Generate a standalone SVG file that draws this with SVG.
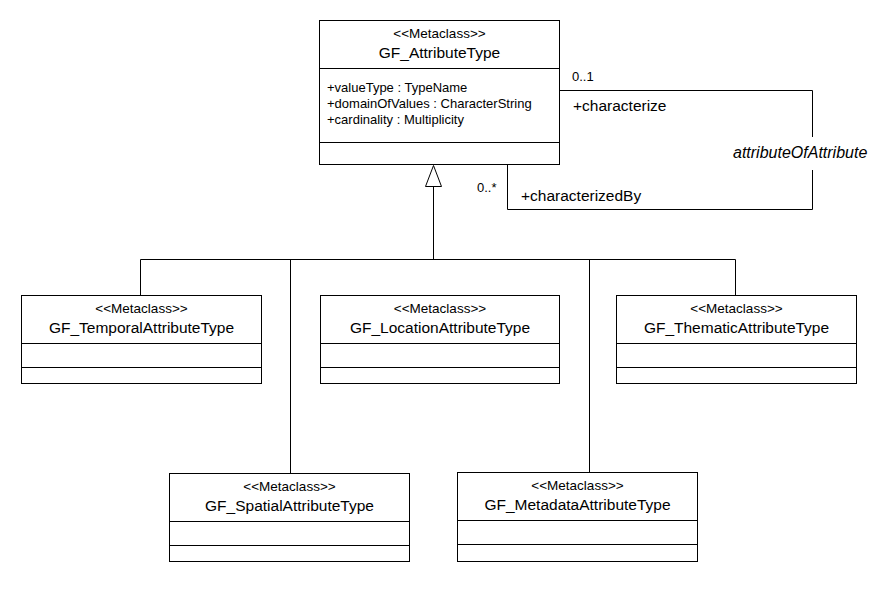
<svg xmlns="http://www.w3.org/2000/svg" width="886" height="616" viewBox="0 0 886 616">
<style>
.box{fill:#fff;stroke:#000;stroke-width:1}
.div{stroke:#000;stroke-width:1}
.st{font-family:"Liberation Sans",Arial,sans-serif;font-size:13.5px;text-anchor:middle;fill:#000}
.nm{font-family:"Liberation Sans",Arial,sans-serif;font-size:15.5px;text-anchor:middle;fill:#000}
.at{font-family:"Liberation Sans",Arial,sans-serif;font-size:13px;fill:#000}
.lb{font-family:"Liberation Sans",Arial,sans-serif;font-size:15.5px;fill:#000}
.ml{font-family:"Liberation Sans",Arial,sans-serif;font-size:13px;fill:#000}
.it{font-family:"Liberation Sans",Arial,sans-serif;font-size:16px;font-style:italic;fill:#000}
.ln{fill:none;stroke:#000;stroke-width:1}
</style>
<rect width="886" height="616" fill="#fff"/>
<g id="connectors">
  <polygon class="box" points="433.5,165.5 425.5,186.5 441.5,186.5"/>
  <path class="ln" d="M433.5 186.5V259.5M140.5 259.5H735.5M140.5 259.5V295M290.5 259.5V473M589.5 259.5V472M735.5 259.5V295"/>
  <path class="ln" d="M559.5 90.5H812.5V137M812.5 170V209.5H507.5V164.5"/>
  <text class="ml" x="572" y="81">0..1</text>
  <text class="lb" x="573" y="111">+characterize</text>
  <text class="it" x="733" y="158">attributeOfAttribute</text>
  <text class="ml" x="477" y="192">0..*</text>
  <text class="lb" x="521" y="201">+characterizedBy</text>
</g>
<g id="GF_AttributeType">
  <rect class="box" x="319.5" y="20.5" width="240" height="144"/>
  <line class="div" x1="319.5" y1="68.5" x2="559.5" y2="68.5"/>
  <line class="div" x1="319.5" y1="142.5" x2="559.5" y2="142.5"/>
  <text class="st" x="439.5" y="38">&lt;&lt;Metaclass&gt;&gt;</text>
  <text class="nm" x="439.5" y="58">GF_AttributeType</text>
  <text class="at" x="327" y="92">+valueType : TypeName</text>
  <text class="at" x="327" y="108">+domainOfValues : CharacterString</text>
  <text class="at" x="327" y="124">+cardinality : Multiplicity</text>
</g>
<g id="GF_TemporalAttributeType">
  <rect class="box" x="21.5" y="295.5" width="240" height="88"/>
  <line class="div" x1="21.5" y1="343.5" x2="261.5" y2="343.5"/>
  <line class="div" x1="21.5" y1="367.5" x2="261.5" y2="367.5"/>
  <text class="st" x="141.5" y="313">&lt;&lt;Metaclass&gt;&gt;</text>
  <text class="nm" x="141.5" y="333">GF_TemporalAttributeType</text>
</g>
<g id="GF_LocationAttributeType">
  <rect class="box" x="320.5" y="295.5" width="239" height="88"/>
  <line class="div" x1="320.5" y1="343.5" x2="559.5" y2="343.5"/>
  <line class="div" x1="320.5" y1="367.5" x2="559.5" y2="367.5"/>
  <text class="st" x="440" y="313">&lt;&lt;Metaclass&gt;&gt;</text>
  <text class="nm" x="440" y="333">GF_LocationAttributeType</text>
</g>
<g id="GF_ThematicAttributeType">
  <rect class="box" x="616.5" y="295.5" width="240" height="88"/>
  <line class="div" x1="616.5" y1="343.5" x2="856.5" y2="343.5"/>
  <line class="div" x1="616.5" y1="367.5" x2="856.5" y2="367.5"/>
  <text class="st" x="736.5" y="313">&lt;&lt;Metaclass&gt;&gt;</text>
  <text class="nm" x="736.5" y="333">GF_ThematicAttributeType</text>
</g>
<g id="GF_SpatialAttributeType">
  <rect class="box" x="169.5" y="473.5" width="240" height="88"/>
  <line class="div" x1="169.5" y1="521.5" x2="409.5" y2="521.5"/>
  <line class="div" x1="169.5" y1="545.5" x2="409.5" y2="545.5"/>
  <text class="st" x="289.5" y="491">&lt;&lt;Metaclass&gt;&gt;</text>
  <text class="nm" x="289.5" y="511">GF_SpatialAttributeType</text>
</g>
<g id="GF_MetadataAttributeType">
  <rect class="box" x="457.5" y="472.5" width="240" height="89"/>
  <line class="div" x1="457.5" y1="520.5" x2="697.5" y2="520.5"/>
  <line class="div" x1="457.5" y1="544.5" x2="697.5" y2="544.5"/>
  <text class="st" x="577.5" y="490">&lt;&lt;Metaclass&gt;&gt;</text>
  <text class="nm" x="577.5" y="510">GF_MetadataAttributeType</text>
</g>
</svg>
